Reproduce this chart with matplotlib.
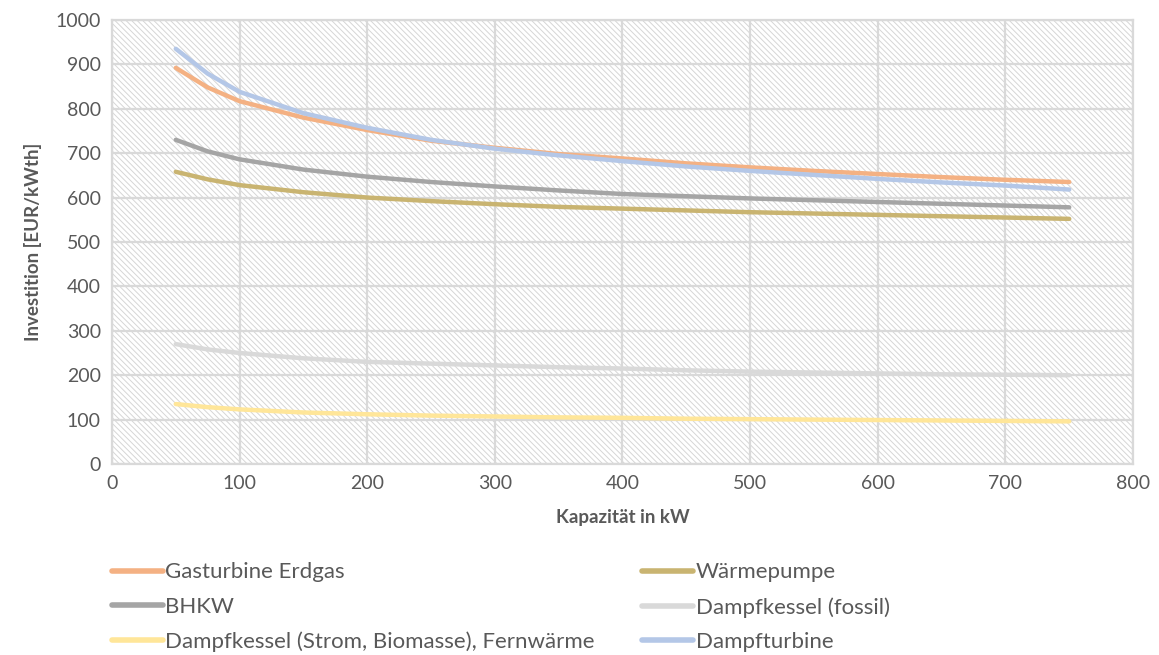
import matplotlib.pyplot as plt
from matplotlib.patches import Rectangle
from matplotlib.lines import Line2D

# Kapazität in kW
kapazitaet = [50, 75, 100, 150, 200, 250, 300, 350, 400, 450, 500, 550, 600, 650, 700, 750]

gasturbine = [892, 848, 817, 780, 752, 728, 712, 698, 688, 677, 668, 660, 653, 646, 640, 635]
waermepumpe = [658, 641, 628, 612, 600, 592, 585, 579, 575, 571, 567, 564, 561, 558, 555, 552]
bhkw = [730, 704, 686, 663, 647, 635, 625, 616, 608, 603, 598, 594, 590, 586, 582, 578]
dampfkessel_fossil = [270, 258, 250, 238, 230, 226, 222, 218, 215, 211, 208, 206, 204, 202, 201, 200]
dampfkessel_strom = [135, 128, 123, 116, 112, 109, 107, 105, 104, 102, 101, 100, 99, 98, 97, 96]
dampfturbine = [935, 879, 838, 790, 757, 730, 710, 695, 682, 670, 660, 651, 642, 634, 627, 618]

labels = ['Gasturbine Erdgas', 'Wärmepumpe', 'BHKW', 'Dampfkessel (fossil)',
          'Dampfkessel (Strom, Biomasse), Fernwärme', 'Dampfturbine']
colors = ['#F4B183', '#C9B471', '#A5A5A5', '#D9D9D9', '#FFE699', '#B4C7E7']
series = [gasturbine, waermepumpe, bhkw, dampfkessel_fossil, dampfkessel_strom, dampfturbine]

plt.rcParams['font.family'] = ['Lato', 'DejaVu Sans']
plt.rcParams['hatch.linewidth'] = 0.7

txt = '#595959'
fig = plt.figure(figsize=(11.59, 6.55), dpi=100)
ax = fig.add_axes([0.0966, 0.2916, 0.881, 0.678])

# hatched plot background
ax.add_patch(Rectangle((0, 0), 1, 1, transform=ax.transAxes, facecolor='white',
                       edgecolor='#D6D6D6', lw=0, hatch='\\' * 6, zorder=0))

for y, c, lab in zip(series, colors, labels):
    ax.plot(kapazitaet, y, color=c, lw=3.2, solid_capstyle='round', label=lab, zorder=3)

ax.set_xlim(0, 800)
ax.set_ylim(0, 1000)
ax.set_xticks(range(0, 801, 100))
ax.set_yticks(range(0, 1001, 100))
ax.grid(True, color='#D9D9D9', lw=1.6, zorder=1)
ax.set_axisbelow(True)
for s in ax.spines.values():
    s.set_color('#D9D9D9')
    s.set_linewidth(1.6)
ax.tick_params(length=0, labelsize=14, labelcolor=txt, pad=8)

ax.set_xlabel('Kapazität in kW', fontsize=13.5, fontweight='bold', color=txt, labelpad=12)
ax.set_ylabel('Investition [EUR/kWth]', fontsize=13.5, fontweight='bold', color=txt, labelpad=10)

handles = [Line2D([], [], color=c, lw=4, solid_capstyle='round') for c in colors]
leg_kw = dict(frameon=False, fontsize=16, labelcolor=txt, handlelength=2.3,
              handletextpad=0.1, labelspacing=0.66, loc='upper left')
fig.legend([handles[0], handles[2], handles[4]], [labels[0], labels[2], labels[4]],
           bbox_to_anchor=(0.079, 0.172), **leg_kw)
fig.legend([handles[1], handles[3], handles[5]], [labels[1], labels[3], labels[5]],
           bbox_to_anchor=(0.537, 0.172), **leg_kw)

fig.savefig('out.png', dpi=100)
